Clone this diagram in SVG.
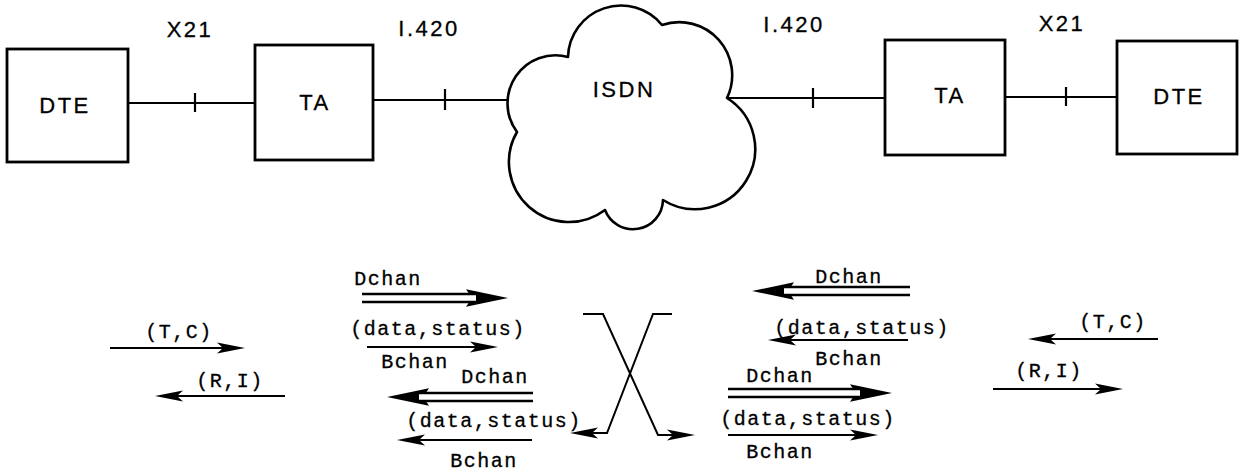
<svg xmlns="http://www.w3.org/2000/svg" width="1239" height="473" viewBox="0 0 1239 473">
  <style>
    .box { fill: #fff; stroke: #000; stroke-width: 2.8; }
    .cloud { fill: #fff; stroke: #000; stroke-width: 2.6; stroke-linejoin: round; }
    .wire { fill: none; stroke: #000; stroke-width: 2; }
    .tick { fill: none; stroke: #000; stroke-width: 2.2; }
    .lbl { font-family: "Liberation Sans", Arial, sans-serif; font-size: 22px; letter-spacing: 2.5px; fill: #000; stroke: #000; stroke-width: 0.3; text-anchor: middle; }
    .mono { font-family: "Liberation Mono", "Courier New", monospace; font-size: 20px; letter-spacing: 1.5px; fill: #000; stroke: #000; stroke-width: 0.3; text-anchor: middle; }
    .arrow { fill: none; stroke: #000; stroke-width: 2; marker-end: url(#head); }
    .dbl { fill: none; stroke: #000; stroke-width: 10.5; marker-end: url(#dhead); }
    .gap { fill: none; stroke: #fff; stroke-width: 5.5; }
  </style>
  <defs>
    <!-- slim filled head; the line stops 10px short of the tip -->
    <marker id="head" viewBox="-30 -7 31 14" refX="-10" refY="0" markerWidth="31" markerHeight="14" markerUnits="userSpaceOnUse" orient="auto">
      <path d="M0,0 L-28,-5.5 L-22,0 L-28,5.5 Z" fill="#000"/>
    </marker>
    <!-- wide head for the double-line (hollow) arrows -->
    <marker id="dhead" viewBox="-44 -10 46 20" refX="-30" refY="0" markerWidth="46" markerHeight="20" markerUnits="userSpaceOnUse" orient="auto">
      <path d="M0,0 L-42,-8.8 L-36,0 L-42,8.8 Z" fill="#000"/>
    </marker>
  </defs>

  <rect width="1239" height="473" fill="#fff"/>

  <!-- interface links and reference-point ticks -->
  <g id="connectors">
    <path class="wire" d="M128,103 H255"/>
    <path class="tick" d="M195,93 V112"/>
    <path class="wire" d="M373,100 H508"/>
    <path class="tick" d="M445,89 V110"/>
    <path class="wire" d="M727,98 H885"/>
    <path class="tick" d="M813,88 V108"/>
    <path class="wire" d="M1005,97 H1117"/>
    <path class="tick" d="M1066,87 V106"/>
  </g>

  <g id="dte-left">
    <rect class="box" x="7" y="49" width="121" height="113"/>
    <text class="lbl" x="65" y="113">DTE</text>
  </g>
  <g id="ta-left">
    <rect class="box" x="255" y="45" width="118" height="115"/>
    <text class="lbl" x="315" y="110">TA</text>
  </g>
  <g id="isdn">
    <path class="cloud" d="M517,132 A48,48 0 0 1 568,57 A53,53 0 0 1 662,25 A53,53 0 0 1 727,98 A58,58 0 0 1 663,200 A30,30 0 0 1 605,210 A60,60 0 0 1 517,132 Z"/>
    <text class="lbl" x="624" y="97">ISDN</text>
  </g>
  <g id="ta-right">
    <rect class="box" x="885" y="40" width="120" height="115"/>
    <text class="lbl" x="950" y="103">TA</text>
  </g>
  <g id="dte-right">
    <rect class="box" x="1117" y="41" width="120" height="113"/>
    <text class="lbl" x="1179" y="104">DTE</text>
  </g>

  <!-- interface names -->
  <g id="interface-labels">
    <text class="lbl" x="190" y="37">X21</text>
    <text class="lbl" x="429" y="36">I.420</text>
    <text class="lbl" x="794" y="32">I.420</text>
    <text class="lbl" x="1062" y="31">X21</text>
  </g>

  <!-- X.21 signals, left DTE side -->
  <g id="x21-left">
    <text class="mono" x="179" y="338">(T,C)</text>
    <path class="arrow" d="M110,348 H235"/>
    <text class="mono" x="230" y="387">(R,I)</text>
    <path class="arrow" d="M285,396 H165"/>
  </g>

  <!-- D and B channel flows, left TA -->
  <g id="isdn-left">
    <text class="mono" x="388" y="285">Dchan</text>
    <path class="dbl" d="M362,298 H478"/>
    <path class="gap" d="M362,298 H476"/>
    <text class="mono" x="438" y="335">(data,status)</text>
    <path class="arrow" d="M367,347 H488"/>
    <text class="mono" x="415" y="368">Bchan</text>

    <text class="mono" x="495" y="383">Dchan</text>
    <path class="dbl" d="M533,397 H417"/>
    <path class="gap" d="M533,397 H419"/>
    <text class="mono" x="494" y="427">(data,status)</text>
    <path class="arrow" d="M532,440 H407"/>
    <text class="mono" x="484" y="467">Bchan</text>
  </g>

  <!-- crossover through the network -->
  <g id="crossover">
    <path class="arrow" d="M583,314 H603 L658,435 H685"/>
    <path class="arrow" d="M672,314 H653 L607,433 H580"/>
  </g>

  <!-- D and B channel flows, right TA -->
  <g id="isdn-right">
    <text class="mono" x="849" y="283">Dchan</text>
    <path class="dbl" d="M910,291 H782"/>
    <path class="gap" d="M910,291 H784"/>
    <text class="mono" x="862" y="334">(data,status)</text>
    <path class="arrow" d="M908,340 H778"/>
    <text class="mono" x="849" y="365">Bchan</text>

    <text class="mono" x="780" y="382">Dchan</text>
    <path class="dbl" d="M728,393 H862"/>
    <path class="gap" d="M728,393 H860"/>
    <text class="mono" x="808" y="425">(data,status)</text>
    <path class="arrow" d="M728,435 H868"/>
    <text class="mono" x="780" y="458">Bchan</text>
  </g>

  <!-- X.21 signals, right DTE side -->
  <g id="x21-right">
    <text class="mono" x="1113" y="328">(T,C)</text>
    <path class="arrow" d="M1158,339 H1038"/>
    <text class="mono" x="1049" y="377">(R,I)</text>
    <path class="arrow" d="M993,389 H1113"/>
  </g>
</svg>
